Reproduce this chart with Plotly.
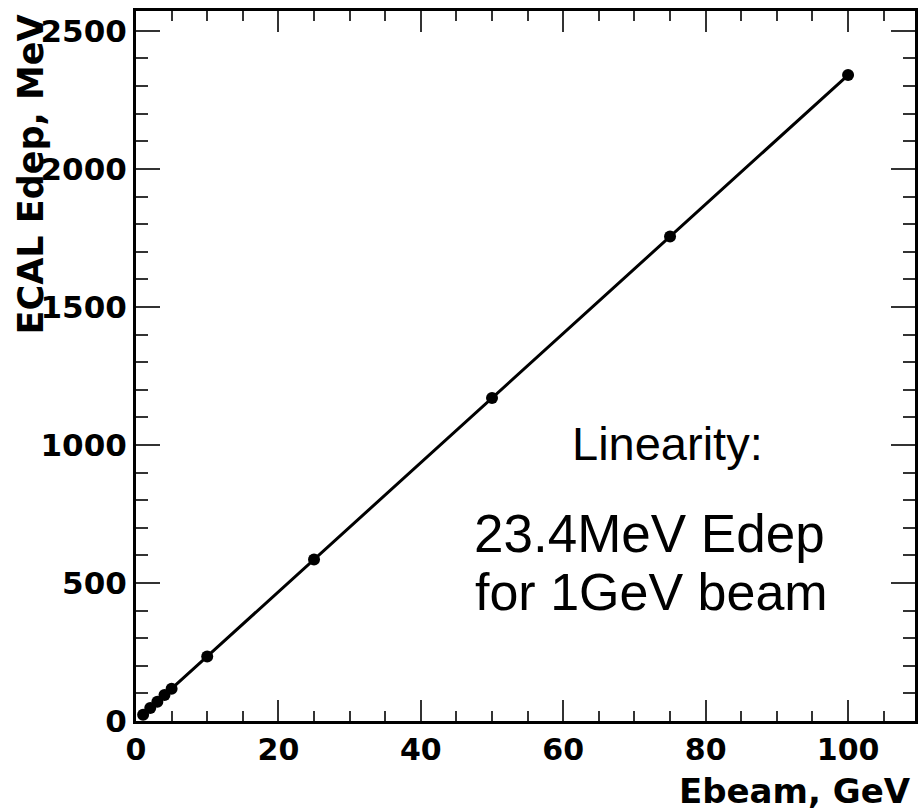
import plotly.graph_objects as go

ebeam = [1, 2, 3, 4, 5, 10, 25, 50, 75, 100]
edep = [23, 47, 70, 94, 117, 234, 585, 1170, 1755, 2340]

x_ticks = [0, 20, 40, 60, 80, 100]
y_ticks = [0, 500, 1000, 1500, 2000, 2500]

W, H = 921, 810
ml, mr, mt, mb = 136, 3, 11, 89
pw, ph = W - ml - mr, H - mt - mb

def px(xp):
    return (xp - ml) / pw

def py(yp):
    return (H - mb - yp) / ph

fig = go.Figure()
fig.add_trace(go.Scatter(
    x=ebeam, y=edep, mode="lines+markers",
    line=dict(color="black", width=3),
    marker=dict(color="black", size=12),
    showlegend=False, cliponaxis=False,
))

xtickfont = dict(family="DejaVu Sans", size=30, color="black", weight="bold")
ytickfont = dict(family="DejaVu Sans", size=31, color="black", weight="bold")

fig.update_xaxes(
    range=[0, 109.4], showgrid=False, zeroline=False,
    showline=True, linecolor="black", linewidth=3, mirror="allticks",
    ticks="inside", ticklen=21, tickwidth=2, tickcolor="#333",
    tickvals=x_ticks, ticktext=[str(v) for v in x_ticks],
    tickfont=xtickfont,
    minor=dict(dtick=5, ticks="inside", ticklen=10, tickwidth=2, tickcolor="#333"),
)
fig.update_yaxes(
    range=[0, 2572], showgrid=False, zeroline=False,
    showline=True, linecolor="black", linewidth=3, mirror="allticks",
    ticks="inside", ticklen=24, tickwidth=2, tickcolor="#333",
    tickvals=y_ticks, ticktext=[str(v) for v in y_ticks],
    tickfont=ytickfont,
    minor=dict(dtick=100, ticks="inside", ticklen=12, tickwidth=2, tickcolor="#333"),
)

titlefont = dict(family="DejaVu Sans", size=35, color="black", weight="bold")
xtitlefont = dict(family="DejaVu Sans", size=34, color="black", weight="bold")
textfont = dict(family="Liberation Sans", color="black")

annotations = [
    dict(text="ECAL Edep, MeV", x=px(31), y=py(12), xanchor="center", yanchor="top",
         textangle=-90, font=titlefont),
    dict(text="Ebeam, GeV", x=px(916), y=py(791), xanchor="right", yanchor="middle",
         font=xtitlefont),
    dict(text="Linearity:", x=px(670), y=py(443), xanchor="center", yanchor="middle",
         font=dict(size=47, **textfont)),
    dict(text="23.4MeV Edep", x=px(651), y=py(533), xanchor="center", yanchor="middle",
         font=dict(size=53, **textfont)),
    dict(text="for 1GeV beam", x=px(653), y=py(592), xanchor="center", yanchor="middle",
         font=dict(size=52, **textfont)),
]
for a in annotations:
    a.update(xref="paper", yref="paper", showarrow=False)

fig.update_layout(
    width=W, height=H,
    margin=dict(l=ml, r=mr, t=mt, b=mb),
    paper_bgcolor="white", plot_bgcolor="white",
    annotations=annotations,
)

fig.write_html(
    "out.html",
    config={"displayModeBar": False},
    post_script="document.body.style.margin='0';document.body.style.overflow='hidden';",
)
